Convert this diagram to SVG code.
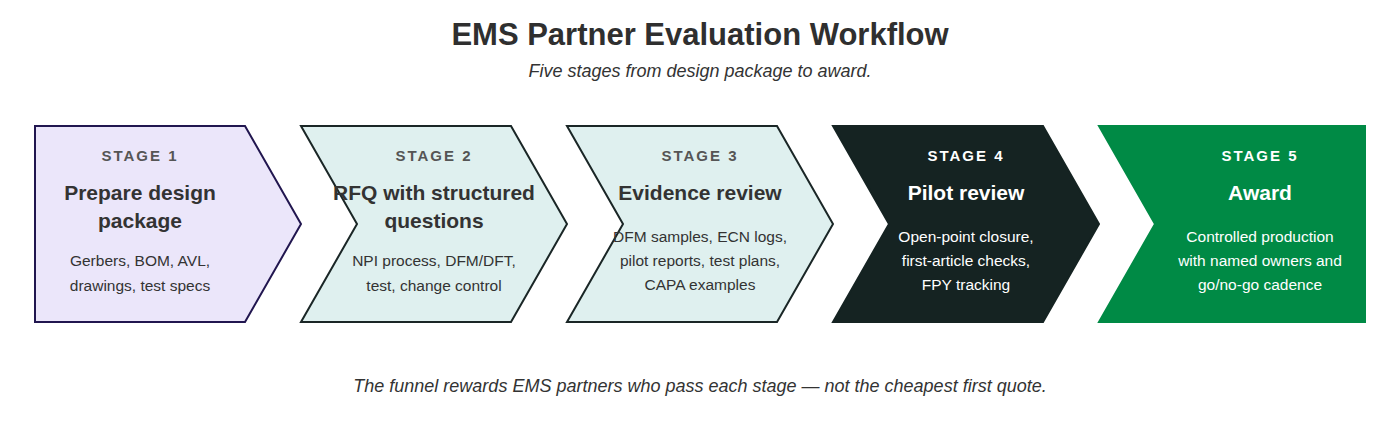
<svg xmlns="http://www.w3.org/2000/svg" width="1400" height="448" viewBox="0 0 1400 448">
<style>
text{font-family:"Liberation Sans",Arial,sans-serif;text-anchor:middle}
.title{font-size:31px;font-weight:bold;fill:#2f2f2f}
.sub{font-size:18px;font-style:italic;fill:#333}
.lbl{font-size:15px;font-weight:bold;letter-spacing:2px}
.head{font-size:21px;font-weight:bold}
.body{font-size:15.5px}
.dk{fill:#333}
.lbl.dk{fill:#555}
.lt{fill:#fff}
</style>
<rect width="1400" height="448" fill="#fff"/>
<text class="title" x="700" y="45">EMS Partner Evaluation Workflow</text>
<text class="sub" x="700" y="77">Five stages from design package to award.</text>
<g id="connectors"></g>
<g id="stage1">
<polygon points="35,126 245,126 301,224 245,322 35,322" fill="#ebe6fa" stroke="#21164f" stroke-width="2"/>
<text class="lbl dk" x="140" y="161">STAGE 1</text>
<text class="head dk" x="140" y="200">Prepare design</text>
<text class="head dk" x="140" y="228">package</text>
<text class="body dk" x="140" y="266">Gerbers, BOM, AVL,</text>
<text class="body dk" x="140" y="291">drawings, test specs</text>
</g>
<g id="stage2">
<polygon points="301,126 511,126 567,224 511,322 301,322 357,224" fill="#dff0ef" stroke="#1a2626" stroke-width="2"/>
<text class="lbl dk" x="434" y="161">STAGE 2</text>
<text class="head dk" x="434" y="200">RFQ with structured</text>
<text class="head dk" x="434" y="228">questions</text>
<text class="body dk" x="434" y="266">NPI process, DFM/DFT,</text>
<text class="body dk" x="434" y="291">test, change control</text>
</g>
<g id="stage3">
<polygon points="567,126 777,126 833,224 777,322 567,322 623,224" fill="#dff0ef" stroke="#1a2626" stroke-width="2"/>
<text class="lbl dk" x="700" y="161">STAGE 3</text>
<text class="head dk" x="700" y="200">Evidence review</text>
<text class="body dk" x="700" y="242">DFM samples, ECN logs,</text>
<text class="body dk" x="700" y="266">pilot reports, test plans,</text>
<text class="body dk" x="700" y="290">CAPA examples</text>
</g>
<g id="stage4">
<polygon points="833,126 1043,126 1099,224 1043,322 833,322 889,224" fill="#152322" stroke="#152322" stroke-width="2"/>
<text class="lbl lt" x="966" y="161">STAGE 4</text>
<text class="head lt" x="966" y="200">Pilot review</text>
<text class="body lt" x="966" y="242">Open-point closure,</text>
<text class="body lt" x="966" y="266">first-article checks,</text>
<text class="body lt" x="966" y="290">FPY tracking</text>
</g>
<g id="stage5">
<polygon points="1099,126 1365,126 1365,322 1099,322 1155,224" fill="#008a45" stroke="#008a45" stroke-width="2"/>
<text class="lbl lt" x="1260" y="161">STAGE 5</text>
<text class="head lt" x="1260" y="200">Award</text>
<text class="body lt" x="1260" y="242">Controlled production</text>
<text class="body lt" x="1260" y="266">with named owners and</text>
<text class="body lt" x="1260" y="290">go/no-go cadence</text>
</g>
<text class="sub" x="700" y="392">The funnel rewards EMS partners who pass each stage — not the cheapest first quote.</text>
</svg>
